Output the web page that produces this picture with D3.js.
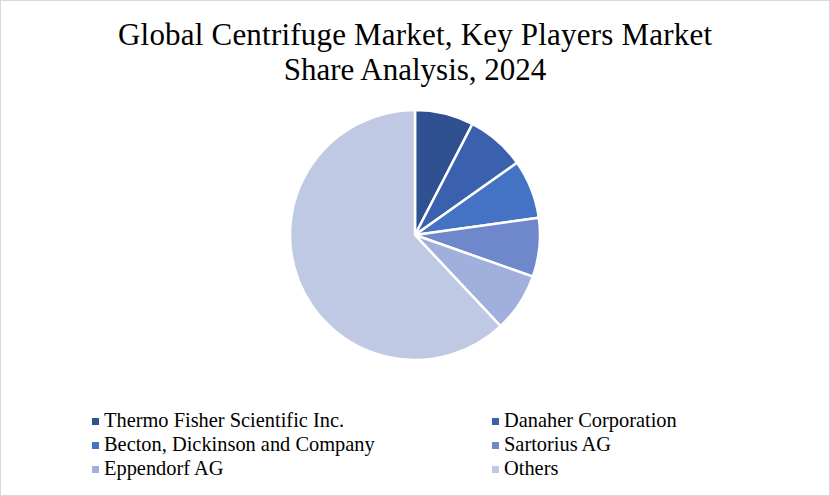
<!DOCTYPE html>
<html lang="en">
<head>
    <meta charset="UTF-8">
    <title>Global Centrifuge Market</title>
    <style>
        body { margin: 0; background: #fff; }
        svg { display: block; }
        text { font-family: "Liberation Serif", "DejaVu Serif", serif; fill: #000; }
    </style>
    <script src="https://d3js.org/d3.v7.min.js"></script>
</head>
<body>
    <svg id="chart" width="830" height="496"></svg>
    <script>
        // Chart data
        const players = ["Thermo Fisher Scientific Inc.", "Danaher Corporation", "Becton, Dickinson and Company",
                         "Sartorius AG", "Eppendorf AG", "Others"];
        const shares = [7.6, 7.6, 7.6, 7.6, 7.6, 62];
        const colors = ["#2f5192", "#3a60ae", "#4472c4", "#6f88cb", "#a0afdb", "#c0c9e4"];

        const svg = d3.select('#chart');

        svg.append('rect')
            .attr('x', 0.5).attr('y', 0.5)
            .attr('width', 829).attr('height', 495)
            .attr('fill', 'none').attr('stroke', '#d9d9d9');

        // title
        const title = svg.append('text')
            .attr('text-anchor', 'middle')
            .attr('font-size', 31);
        title.append('tspan').attr('x', 415).attr('y', 45).attr('textLength', 594).text('Global Centrifuge Market, Key Players Market');
        title.append('tspan').attr('x', 415).attr('y', 80).text('Share Analysis, 2024');

        // pie
        const pie = d3.pie().sort(null).value(d => d);
        const arc = d3.arc().innerRadius(0).outerRadius(125);

        svg.append('g')
            .attr('transform', 'translate(415,235)')
            .selectAll('path')
            .data(pie(shares))
            .enter().append('path')
            .attr('d', arc)
            .attr('fill', (d, i) => colors[i])
            .attr('stroke', '#fff')
            .attr('stroke-width', 2.5);

        // legend
        const legend = svg.append('g')
            .selectAll('g')
            .data(players)
            .enter().append('g')
            .attr('transform', (d, i) => `translate(${i % 2 === 0 ? 92 : 492},${427 + Math.floor(i / 2) * 24})`);

        legend.append('rect')
            .attr('x', 0).attr('y', -9)
            .attr('width', 7).attr('height', 7)
            .attr('fill', (d, i) => colors[i]);

        legend.append('text')
            .attr('x', 12).attr('y', 0)
            .attr('font-size', 20.4)
            .text(d => d);
    </script>
</body>
</html>
